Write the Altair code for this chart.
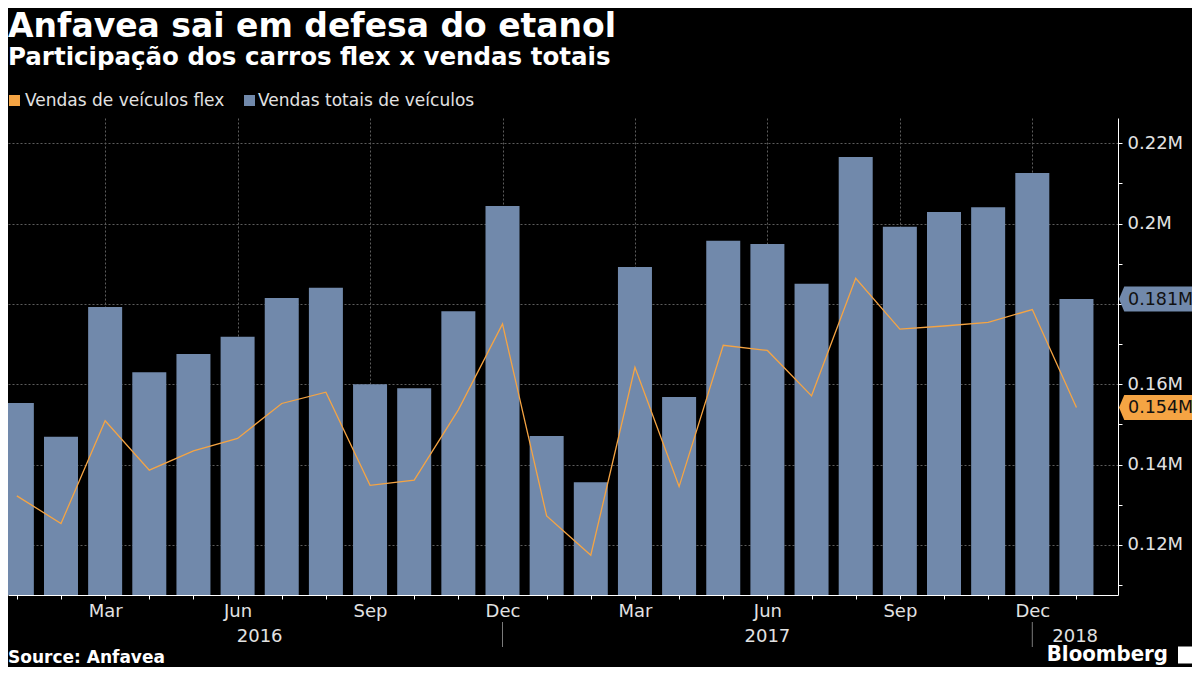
import altair as alt
import pandas as pd

# ---------------- data ----------------
months = ["Jan", "Feb", "Mar", "Apr", "May", "Jun", "Jul", "Aug", "Sep", "Oct", "Nov", "Dec"] * 2 + ["Jan"]
years = [2016] * 12 + [2017] * 12 + [2018]
# vendas (milhões)
flex = [0.1322, 0.1253, 0.1509, 0.1386, 0.1434, 0.1465, 0.1552, 0.1580, 0.1348, 0.1361, 0.1536, 0.1750,
        0.1272, 0.1174, 0.1642, 0.1345, 0.1697, 0.1684, 0.1571, 0.1864, 0.1737, 0.1745, 0.1754, 0.1786, 0.1542]
total = [0.1553, 0.1469, 0.1792, 0.1630, 0.1675, 0.1718, 0.1815, 0.1840, 0.1600, 0.1590, 0.1782, 0.2044,
         0.1471, 0.1356, 0.1892, 0.1568, 0.1957, 0.1949, 0.1850, 0.2166, 0.1992, 0.2029, 0.2041, 0.2126, 0.1812]
tick_months = ["Mar", "Jun", "Sep", "Dec"]
y_ticks = [0.11, 0.12, 0.13, 0.14, 0.15, 0.16, 0.17, 0.18, 0.19, 0.20, 0.21, 0.22]
legend_labels = ["Vendas de veículos flex", "Vendas totais de veículos"]
title_text = "Anfavea sai em defesa do etanol"
subtitle_text = "Participação dos carros flex x vendas totais"
source_text = "Source: Anfavea"
brand_text = "Bloomberg"

# ---------------- style ----------------
W, H = 1110, 477
BLUE = "#7189ab"
ORANGE = "#f5a443"
GRID = "#5c5c5c"
TXT = "#e2e2e2"
FONT = "DejaVu Sans"
FONT_C = "DejaVu Sans Condensed"

X_DOMAIN = [-0.2004, 24.941]
Y_DOMAIN = [0.1075, 0.2263]

n = len(months)
df = pd.DataFrame({"i": list(range(n)), "month": months, "year": years,
                   "flex": flex, "total": total})

x_labels = [m if m in tick_months else "" for m in months]
label_expr = "[" + ",".join("'%s'" % l for l in x_labels) + "][datum.value]"
grid_idx = [i for i, m in enumerate(months) if m in tick_months]
x_grid_test = "indexof([" + ",".join(str(i) for i in grid_idx) + "], datum.value) >= 0"

# axis labels hidden where the last-value tags sit on top of them
last_vals = [total[-1], flex[-1]]
hidden_test = " || ".join("abs(datum.value - %s) < 0.004" % v for v in last_vals)
y_label_expr = ("(" + hidden_test + ") ? '' : (round(datum.value*100) % 2 == 0 ? "
                "format(datum.value, '.2~f') + 'M' : '')")

xaxis = alt.Axis(orient="bottom", values=list(range(n)), labelExpr=label_expr, title=None,
                 grid=True, gridColor=GRID, gridDash=[2, 2], gridWidth=1,
                 gridOpacity={"condition": {"test": x_grid_test, "value": 1}, "value": 0},
                 domainColor="white", domainWidth=1, tickColor="white", tickSize=4, tickWidth=1,
                 labelColor=TXT, labelFont=FONT, labelFontSize=18, labelPadding=3,
                 labelOverlap=False, labelFlush=False)
yaxis = alt.Axis(orient="right", values=y_ticks, title=None,
                 grid=True, gridColor=GRID, gridDash=[2, 2], gridWidth=1,
                 gridOpacity={"condition": {"test": "round(datum.value*100) % 2 == 0", "value": 1},
                              "value": 0},
                 labelExpr=y_label_expr,
                 domainColor="white", domainWidth=1, tickColor="white", tickSize=4, tickWidth=1,
                 labelColor=TXT, labelFont=FONT, labelFontSize=18, labelPadding=5,
                 labelOverlap=False, labelFlush=False)

xscale = alt.Scale(domain=X_DOMAIN, nice=False, zero=False, padding=0)
yscale = alt.Scale(domain=Y_DOMAIN, nice=False, zero=False, padding=0)

bars = alt.Chart(df).mark_bar(color=BLUE, size=34, clip=True).encode(
    x=alt.X("i:Q", scale=xscale, axis=xaxis),
    y=alt.Y("total:Q", scale=yscale, axis=yaxis),
    y2=alt.datum(Y_DOMAIN[0]))

line = alt.Chart(df).mark_line(color=ORANGE, strokeWidth=1.3, clip=True).encode(
    x=alt.X("i:Q"), y=alt.Y("flex:Q"))

# year labels & separators
sep_idx = [i for i, m in enumerate(months) if m == "Dec"]
bounds = [0] + sep_idx + [X_DOMAIN[1]]
year_names = sorted(set(years))
year_pos = [(bounds[k] + bounds[k + 1]) / 2 for k in range(len(year_names))]
years_df = pd.DataFrame({"i": year_pos, "label": [str(y) for y in year_names]})
year_text = alt.Chart(years_df).mark_text(
    font=FONT, fontSize=18, color=TXT, baseline="alphabetic", align="center").encode(
    x=alt.X("i:Q"), y=alt.value(H + 47), text="label:N")
seps = alt.Chart(pd.DataFrame({"i": sep_idx})).mark_rule(color="#7a7a7a", strokeWidth=1).encode(
    x=alt.X("i:Q"), y=alt.value(H + 27), y2=alt.value(H + 52))

# value tags on the right axis
tag_df = pd.DataFrame({"v": last_vals,
                       "label": ["%.3fM" % v for v in last_vals],
                       "c": [BLUE, ORANGE]})
tag_shape = "M0,0 L0.42,-1 L7,-1 L7,1 L0.42,1 Z"
tags = alt.Chart(tag_df).mark_point(shape=tag_shape, size=625, filled=True, opacity=1,
                                    strokeWidth=0).encode(
    x=alt.value(W + 1), y=alt.Y("v:Q"), color=alt.Color("c:N", scale=None))
tag_text = alt.Chart(tag_df).mark_text(font=FONT, fontSize=17.5, color="#111111",
                                       align="left", baseline="middle", dy=1).encode(
    x=alt.value(W + 10), y=alt.Y("v:Q"), text="label:N")


def text_layer(txt, x, y, size, weight="normal", color="white", align="left", font=FONT):
    return alt.Chart(pd.DataFrame({"t": [txt]})).mark_text(
        font=font, fontSize=size, fontWeight=weight, color=color, align=align,
        baseline="alphabetic").encode(text="t:N", x=alt.value(x), y=alt.value(y))


title = text_layer(title_text, 0, -81, 33, "bold")
subtitle = text_layer(subtitle_text, 0, -53, 24.5, "bold")
leg1_sq = alt.Chart(pd.DataFrame({"t": [legend_labels[0]]})).mark_square(
    size=121, color=ORANGE, opacity=1).encode(x=alt.value(6.5), y=alt.value(-17.5))
leg1_tx = text_layer(legend_labels[0], 17, -12, 17, color=TXT)
leg2_sq = alt.Chart(pd.DataFrame({"t": [legend_labels[1]]})).mark_square(
    size=121, color=BLUE, opacity=1).encode(x=alt.value(241.5), y=alt.value(-17.5))
leg2_tx = text_layer(legend_labels[1], 250, -12, 17, color=TXT)
source = text_layer(source_text, 0, H + 68, 17, "bold")
brand = text_layer(brand_text, 1160, H + 66, 22, "bold", align="right", font=FONT_C)
logo = alt.Chart(pd.DataFrame({"t": [brand_text]})).mark_square(
    size=289, color="white", opacity=1).encode(x=alt.value(1178.5), y=alt.value(H + 60))

chart = alt.layer(
    bars, line, seps, year_text, tags, tag_text,
    title, subtitle, leg1_sq, leg1_tx, leg2_sq, leg2_tx, source, brand, logo
).properties(
    width=W, height=H,
    autosize=alt.AutoSizeParams(type="none"),
    padding={"left": 0, "top": 110, "right": 74, "bottom": 72},
    background="#000000",
).configure_view(stroke=None)

chart.save("out.html", embed_options={"renderer": "svg", "actions": False})
